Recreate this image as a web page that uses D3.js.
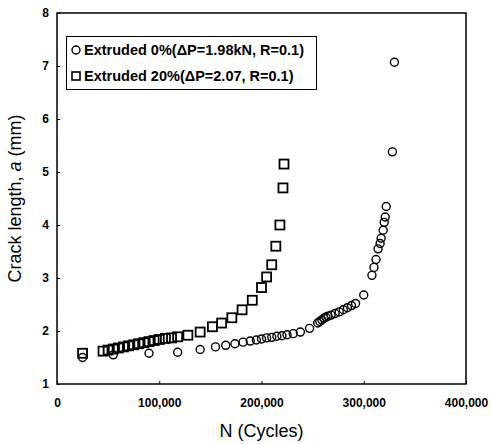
<!DOCTYPE html>
<html>
<head>
<meta charset="utf-8">
<script src="https://cdn.jsdelivr.net/npm/d3@7"></script>
<style>
  body { margin: 0; background: #fff; }
  svg { font-family: "Liberation Sans", Arial, sans-serif; }
</style>
</head>
<body>
<div id="chart"></div>
<script>
// Extruded 0% (circles): [N cycles, crack length a (mm)]
const extruded0 = [
  [25000, 1.50], [55000, 1.55], [90000, 1.58], [118000, 1.60], [140000, 1.65],
  [155000, 1.70], [165000, 1.73], [174000, 1.76], [182000, 1.79], [189000, 1.81],
  [195000, 1.83], [200000, 1.85], [205000, 1.87], [210000, 1.88], [215000, 1.90],
  [220000, 1.91], [225000, 1.93], [231000, 1.95], [238000, 1.98], [247000, 2.05],
  [255000, 2.15], [257000, 2.18], [259000, 2.21], [261000, 2.24], [263000, 2.26],
  [265000, 2.28], [268000, 2.30], [272000, 2.33], [276000, 2.36], [280000, 2.40],
  [284000, 2.44], [288000, 2.48], [292000, 2.52], [300000, 2.68], [308000, 3.05],
  [310000, 3.20], [312000, 3.35], [314000, 3.55], [316000, 3.65], [317000, 3.75],
  [319000, 3.90], [320000, 4.05], [321000, 4.15], [322000, 4.35], [328000, 5.38],
  [330000, 7.07]
];

// Extruded 20% (squares)
const extruded20 = [
  [25000, 1.58], [45000, 1.62], [50000, 1.64], [55000, 1.66], [60000, 1.68],
  [65000, 1.70], [70000, 1.72], [75000, 1.74], [80000, 1.76], [85000, 1.78],
  [90000, 1.80], [95000, 1.82], [100000, 1.84], [106000, 1.86], [112000, 1.87],
  [118000, 1.89], [128000, 1.92], [140000, 1.98], [152000, 2.08], [161000, 2.15],
  [171000, 2.25], [181000, 2.40], [191000, 2.58], [200000, 2.82], [205000, 3.02],
  [210000, 3.25], [214000, 3.60], [218000, 4.00], [221000, 4.70], [222000, 5.15]
];

const xTicks = [0, 100000, 200000, 300000, 400000];
const yTicks = [1, 2, 3, 4, 5, 6, 7, 8];
const legendLabels = ["Extruded 0%(\u0394P=1.98kN, R=0.1)", "Extruded 20%(\u0394P=2.07, R=0.1)"];

const width = 491, height = 444;
const margin = {top: 13, right: 25, bottom: 60, left: 57};

const svg = d3.select("#chart").append("svg")
  .attr("width", width)
  .attr("height", height);

const x = d3.scaleLinear()
  .domain([0, 400000])
  .range([margin.left, width - margin.right]);

const y = d3.scaleLinear()
  .domain([1, 8])
  .range([height - margin.bottom, margin.top]);

// axes: short inward ticks, labels below / left
svg.append("g")
  .attr("transform", `translate(0,${height - margin.bottom})`)
  .call(d3.axisBottom(x).tickValues(xTicks).tickSize(-3).tickPadding(14).tickFormat(d3.format(",")))
  .call(g => g.select(".domain").remove())
  .call(g => g.selectAll("text").style("font-size", "12px").style("font-weight", "bold").attr("fill", "#000"));

svg.append("g")
  .attr("transform", `translate(${margin.left},0)`)
  .call(d3.axisLeft(y).tickValues(yTicks).tickSize(-3).tickPadding(8).tickFormat(d3.format("d")))
  .call(g => g.select(".domain").remove())
  .call(g => g.selectAll("text").style("font-size", "12px").style("font-weight", "bold").attr("fill", "#000"));

// plot frame
svg.append("rect")
  .attr("x", x(0))
  .attr("y", y(8))
  .attr("width", x(400000) - x(0))
  .attr("height", y(1) - y(8))
  .attr("fill", "none")
  .attr("stroke", "#000")
  .attr("stroke-width", 1.5);

// titles
svg.append("text")
  .attr("x", (x(0) + x(400000)) / 2)
  .attr("y", 437)
  .attr("text-anchor", "middle")
  .style("font-size", "18px")
  .text("N (Cycles)");

const yTitle = svg.append("text")
  .attr("transform", `translate(21,${(y(1) + y(8)) / 2}) rotate(-90)`)
  .attr("text-anchor", "middle")
  .style("font-size", "18px");
yTitle.append("tspan").text("Crack length,  ");
yTitle.append("tspan").style("font-style", "italic").text("a");
yTitle.append("tspan").text(" (mm)");

// markers
svg.append("g").selectAll("circle")
  .data(extruded0)
  .join("circle")
  .attr("cx", d => x(d[0]))
  .attr("cy", d => y(d[1]))
  .attr("r", 4)
  .attr("fill", "none")
  .attr("stroke", "#000")
  .attr("stroke-width", 1.4);

const sq = 9;
svg.append("g").selectAll("rect")
  .data(extruded20)
  .join("rect")
  .attr("x", d => x(d[0]) - sq / 2)
  .attr("y", d => y(d[1]) - sq / 2)
  .attr("width", sq)
  .attr("height", sq)
  .attr("fill", "none")
  .attr("stroke", "#000")
  .attr("stroke-width", 1.8);

// legend
const legend = svg.append("g");
legend.append("rect")
  .attr("x", 66.5)
  .attr("y", 36.5)
  .attr("width", 250)
  .attr("height", 53)
  .attr("fill", "#fff")
  .attr("stroke", "#000")
  .attr("stroke-width", 1);

legend.append("circle")
  .attr("cx", 76).attr("cy", 50).attr("r", 4)
  .attr("fill", "none").attr("stroke", "#000").attr("stroke-width", 1.4);
legend.append("rect")
  .attr("x", 72).attr("y", 72).attr("width", 8).attr("height", 8)
  .attr("fill", "none").attr("stroke", "#000").attr("stroke-width", 1.6);

legend.selectAll("text")
  .data(legendLabels)
  .join("text")
  .attr("x", 84)
  .attr("y", (d, i) => 55 + i * 26)
  .style("font-size", "14.5px")
  .style("font-weight", "bold")
  .text(d => d);
</script>
</body>
</html>
